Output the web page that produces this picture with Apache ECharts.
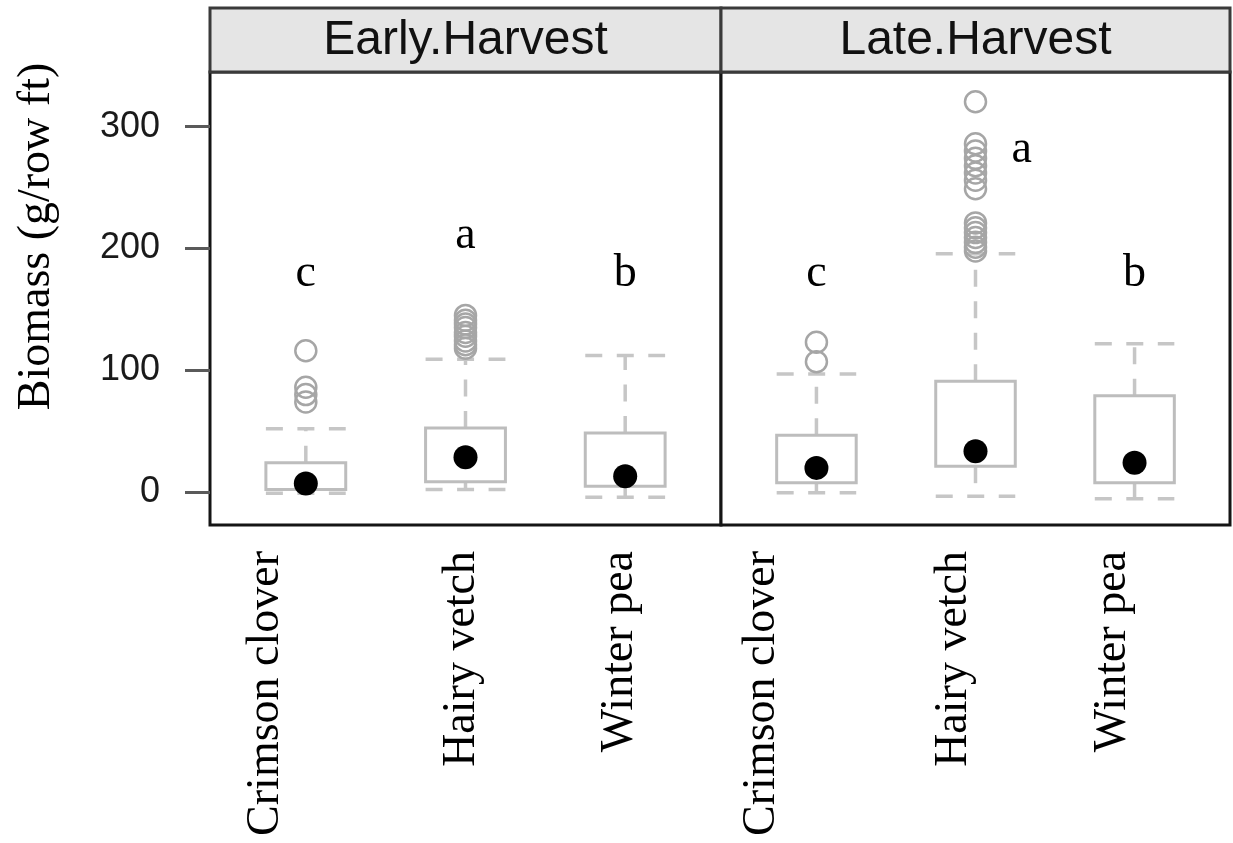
<!DOCTYPE html>
<html>
<head>
<meta charset="utf-8">
<script src="https://cdn.jsdelivr.net/npm/echarts@6/dist/echarts.min.js"></script>
<style>
  html, body { margin: 0; padding: 0; background: #fff; }
  #main { width: 1233px; height: 843px; }
</style>
</head>
<body>
<div id="main"></div>
<script>
// cover crop biomass, two harvest panels
var categories = ['Crimson clover', 'Hairy vetch', 'Winter pea'];
var panels = ['Early.Harvest', 'Late.Harvest'];
var yTicks = [0, 100, 200, 300];

// [low whisker, Q1, median, Q3, high whisker]
var earlyBox = [[-1, 2, 7, 24, 52], [2, 8.4, 28.5, 52.6, 109], [-4.3, 4.8, 13, 48.5, 112]];
var lateBox = [[-0.7, 7.5, 19.8, 46.6, 97], [-3.4, 21.2, 33.5, 90.9, 195.6], [-5.6, 7.5, 24, 79.1, 121.8]];
var earlyOutliers = [[116, 86, 80, 74], [145, 141, 138, 135, 131, 128, 124, 121, 118], []];
var lateOutliers = [[123, 107], [320.5, 286, 280, 274, 268, 262, 256, 249, 221, 217, 213, 209, 205, 201, 198], []];

// significance letters: [x, y, letter]
var earlyLetters = [[1, 179, 'c'], [2, 210, 'a'], [3, 179, 'b']];
var lateLetters = [[1, 179, 'c'], [2.29, 281, 'a'], [3, 179, 'b']];

// layout
var LEFT0 = 210, DIV = 721, RIGHT1 = 1230, TOP = 72, BOTTOM = 525, STRIP_TOP = 8;
// sideways nudge of the rotated category labels (px to the left)
var labelNudge = [[40, 4, 5], [55, 22, 22]];

var myChart = echarts.init(document.getElementById('main'));

function renderBox(params, api) {
    var x = api.value(0);
    var low = api.coord([x, api.value(1)]);
    var q1 = api.coord([x, api.value(2)]);
    var q3 = api.coord([x, api.value(4)]);
    var high = api.coord([x, api.value(5)]);
    var halfW = api.size([0.5, 0])[0] / 2;
    var cx = q1[0];
    var boxStyle = { stroke: '#bdbdbd', lineWidth: 3, fill: null };
    var dash = { stroke: '#c6c6c6', lineWidth: 3.5, lineDash: [17, 14.5] };
    return {
        type: 'group',
        children: [
            { type: 'line', shape: { x1: cx, y1: q3[1], x2: cx, y2: high[1] }, style: dash },
            { type: 'line', shape: { x1: cx, y1: q1[1], x2: cx, y2: low[1] }, style: dash },
            { type: 'line', shape: { x1: cx - halfW, y1: high[1], x2: cx + halfW, y2: high[1] }, style: dash },
            { type: 'line', shape: { x1: cx - halfW, y1: low[1], x2: cx + halfW, y2: low[1] }, style: dash },
            { type: 'rect', shape: { x: cx - halfW, y: q3[1], width: 2 * halfW, height: q1[1] - q3[1] }, style: boxStyle }
        ]
    };
}

function boxData(arr) {
    return arr.map(function (b, i) { return [i + 1].concat(b); });
}
function medianData(arr) {
    return arr.map(function (b, i) { return [i + 1, b[2]]; });
}
function outlierData(arr) {
    var out = [];
    for (var i = 0; i < arr.length; i++) {
        for (var j = 0; j < arr[i].length; j++) {
            out.push([i + 1, arr[i][j]]);
        }
    }
    return out;
}
function letterData(arr) {
    return arr.map(function (l) { return { value: [l[0], l[1]], name: l[2] }; });
}

function xAxisFor(idx) {
    var rich = {};
    for (var i = 0; i < 3; i++) {
        rich['c' + i] = {
            fontFamily: 'Liberation Serif', fontSize: 46, color: '#000',
            padding: [0, 0, labelNudge[idx][i] * 2, 0]
        };
    }
    return {
        gridIndex: idx,
        type: 'value',
        min: 0.4,
        max: 3.6,
        axisLine: { show: false },
        axisTick: { show: false },
        splitLine: { show: false },
        axisLabel: {
            customValues: [1, 2, 3],
            rotate: 90,
            margin: 26,
            formatter: function (v) {
                var i = Math.round(v) - 1;
                return '{c' + i + '|' + categories[i] + '}';
            },
            rich: rich
        }
    };
}

function seriesFor(idx, boxes, outliers, letters) {
    return [
        {
            type: 'custom',
            xAxisIndex: idx, yAxisIndex: idx,
            renderItem: renderBox,
            encode: { x: 0, y: [1, 2, 3, 4, 5] },
            data: boxData(boxes),
            silent: true,
            z: 2
        },
        {
            type: 'scatter',
            xAxisIndex: idx, yAxisIndex: idx,
            symbol: 'circle',
            symbolSize: 21,
            itemStyle: { color: 'rgba(0,0,0,0)', borderColor: '#a6a6a6', borderWidth: 2.5, opacity: 1 },
            data: outlierData(outliers),
            silent: true,
            z: 3
        },
        {
            type: 'scatter',
            xAxisIndex: idx, yAxisIndex: idx,
            symbol: 'circle',
            symbolSize: 24,
            itemStyle: { color: '#000', opacity: 1 },
            data: medianData(boxes),
            silent: true,
            z: 4
        },
        {
            type: 'scatter',
            xAxisIndex: idx, yAxisIndex: idx,
            symbolSize: 0,
            itemStyle: { opacity: 1 },
            data: letterData(letters),
            silent: true,
            label: {
                show: true,
                position: 'inside',
                formatter: '{b}',
                fontFamily: 'Liberation Serif',
                fontSize: 46,
                color: '#000'
            },
            z: 5
        }
    ];
}

var stripW0 = DIV - LEFT0, stripW1 = RIGHT1 - DIV;

var options = {
    backgroundColor: '#fff',
    animation: false,
    grid: [
        { left: LEFT0, top: TOP, width: stripW0, height: BOTTOM - TOP, show: true, borderColor: '#151515', borderWidth: 3, backgroundColor: '#fff', outerBoundsMode: 'none', containLabel: false },
        { left: DIV, top: TOP, width: stripW1, height: BOTTOM - TOP, show: true, borderColor: '#151515', borderWidth: 3, backgroundColor: '#fff', outerBoundsMode: 'none', containLabel: false }
    ],
    xAxis: [xAxisFor(0), xAxisFor(1)],
    yAxis: [
        {
            gridIndex: 0,
            type: 'value',
            min: -27.1,
            max: 344.9,
            name: 'Biomass (g/row ft)',
            nameLocation: 'middle',
            nameGap: 150,
            nameRotate: 90,
            nameTextStyle: {
                fontFamily: 'Liberation Serif', fontSize: 46, color: '#000',
                padding: [0, 0, 0, 124]
            },
            axisLine: { show: false },
            splitLine: { show: false },
            axisTick: {
                show: true, length: 25, customValues: yTicks,
                lineStyle: { color: '#5a5a5a', width: 3 }
            },
            axisLabel: {
                customValues: yTicks,
                margin: 50,
                fontFamily: 'Liberation Sans',
                fontSize: 36,
                color: '#1a1a1a'
            }
        },
        {
            gridIndex: 1,
            type: 'value',
            min: -27.1,
            max: 344.9,
            axisLine: { show: false },
            splitLine: { show: false },
            axisTick: { show: false },
            axisLabel: { show: false }
        }
    ],
    graphic: [
        {
            type: 'rect',
            shape: { x: LEFT0, y: STRIP_TOP, width: stripW0, height: TOP - STRIP_TOP },
            style: { fill: '#e5e5e5', stroke: '#3a3a3a', lineWidth: 3 },
            z: 10
        },
        {
            type: 'rect',
            shape: { x: DIV, y: STRIP_TOP, width: stripW1, height: TOP - STRIP_TOP },
            style: { fill: '#e5e5e5', stroke: '#3a3a3a', lineWidth: 3 },
            z: 10
        },
        {
            type: 'text',
            x: LEFT0 + stripW0 / 2, y: (STRIP_TOP + TOP) / 2 + 1,
            style: { text: panels[0], fontFamily: 'Liberation Sans', fontSize: 48, fill: '#111', align: 'center', verticalAlign: 'middle' },
            z: 11
        },
        {
            type: 'text',
            x: DIV + stripW1 / 2, y: (STRIP_TOP + TOP) / 2 + 1,
            style: { text: panels[1], fontFamily: 'Liberation Sans', fontSize: 48, fill: '#111', align: 'center', verticalAlign: 'middle' },
            z: 11
        }
    ],
    series: seriesFor(0, earlyBox, earlyOutliers, earlyLetters).concat(seriesFor(1, lateBox, lateOutliers, lateLetters))
};
myChart.setOption(options);
</script>
</body>
</html>
